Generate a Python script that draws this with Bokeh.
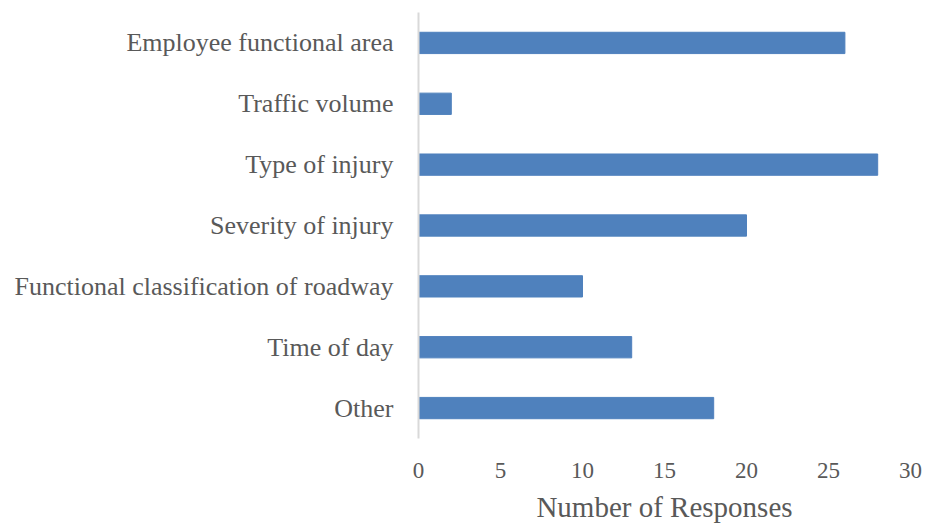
from bokeh.plotting import figure
from bokeh.models import FactorRange, Range1d, FixedTicker, ColumnDataSource
from bokeh.embed import file_html
from bokeh.resources import INLINE

categories = ["Employee functional area", "Traffic volume", "Type of injury",
              "Severity of injury", "Functional classification of roadway",
              "Time of day", "Other"]
responses = [26, 2, 28, 20, 10, 13, 18]
x_ticks = [0, 5, 10, 15, 20, 25, 30]

FONT = "Liberation Serif"
TEXT = "#595959"

src = ColumnDataSource(dict(cat=categories, val=responses))

p = figure(width=926, height=525, output_backend="svg", toolbar_location=None,
           y_range=FactorRange(*list(reversed(categories)), range_padding=0),
           x_range=Range1d(0, 30),
           min_border_left=418, min_border_right=16, min_border_top=12, min_border_bottom=86)
p.hbar(y="cat", right="val", left=0, height=0.35, source=src,
       fill_color="#4f81bd", line_color="#4f81bd")

p.outline_line_color = None
p.grid.visible = False
p.background_fill_color = "white"

p.xaxis.ticker = FixedTicker(ticks=x_ticks)
p.xaxis.axis_line_color = None
p.xaxis.major_tick_line_color = None
p.xaxis.minor_tick_line_color = None
p.xaxis.major_label_text_font = FONT
p.xaxis.major_label_text_font_size = "23px"
p.xaxis.major_label_text_color = TEXT
p.xaxis.major_label_standoff = 18
p.xaxis.axis_label = "Number of Responses"
p.xaxis.axis_label_text_font = FONT
p.xaxis.axis_label_text_font_size = "29px"
p.xaxis.axis_label_text_font_style = "normal"
p.xaxis.axis_label_text_color = TEXT
p.xaxis.axis_label_standoff = 10

p.yaxis.axis_line_color = "#d9d9d9"
p.yaxis.axis_line_width = 2
p.yaxis.major_tick_line_color = None
p.yaxis.minor_tick_line_color = None
p.yaxis.major_label_text_font = FONT
p.yaxis.major_label_text_font_size = "26px"
p.yaxis.major_label_text_color = TEXT
p.yaxis.major_label_standoff = 19

open("out.html", "w").write(file_html(p, INLINE))
